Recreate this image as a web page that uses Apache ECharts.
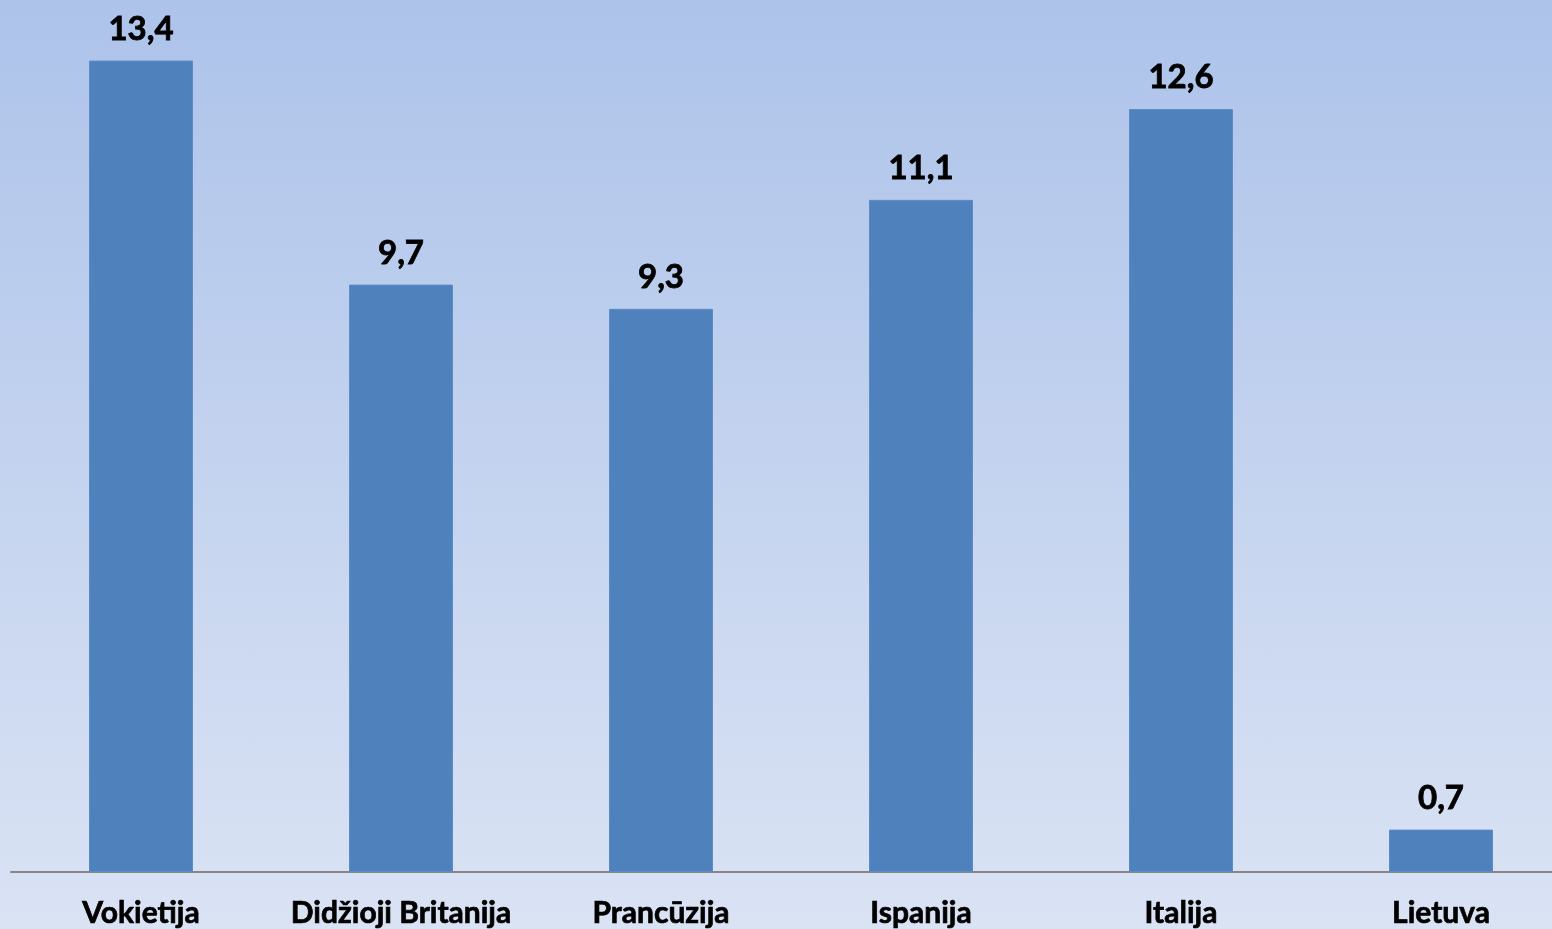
<!DOCTYPE html>
<html>
<head>
<meta charset="utf-8">
<script src="https://cdn.jsdelivr.net/npm/echarts@6/dist/echarts.min.js"></script>
<style>
html,body{margin:0;padding:0;width:1552px;height:929px;overflow:hidden;}
body{background:linear-gradient(to bottom,#adc3ea 0%,#dae3f4 100%);}
#c{width:1571px;height:929px;}
</style>
</head>
<body>
<div id="c"></div>
<script>
const categories = ['Vokietija', 'Didžioji Britanija', 'Prancūzija', 'Ispanija', 'Italija', 'Lietuva'];
const values = [13.4, 9.7, 9.3, 11.1, 12.6, 0.7];

const chart = echarts.init(document.getElementById('c'), null, {renderer: 'canvas'});
chart.setOption({
  backgroundColor: 'transparent',
  animation: false,
  grid: {left: 11, right: 0, top: 0, bottom: 57, containLabel: false},
  xAxis: {
    type: 'category',
    data: categories,
    axisLine: {show: true, lineStyle: {color: '#868686', width: 2}},
    axisTick: {show: false},
    axisLabel: {
      color: '#000', fontFamily: 'Lato', fontWeight: 'bold', fontSize: 30,
      margin: 26, interval: 0, textBorderColor: '#000', textBorderWidth: 0.7
    }
  },
  yAxis: {
    type: 'value', min: 0, max: 14.4,
    show: false, splitLine: {show: false}
  },
  series: [{
    type: 'bar',
    data: values,
    barWidth: '40%',
    itemStyle: {color: '#4f81bd', borderColor: '#5c8cc6', borderWidth: 1},
    label: {
      show: true, position: 'top', distance: 15,
      color: '#000', fontFamily: 'Lato', fontWeight: 'bold', fontSize: 33,
      textBorderColor: '#000', textBorderWidth: 0.8,
      formatter: p => String(p.value).replace('.', ',')
    }
  }]
});
</script>
</body>
</html>
